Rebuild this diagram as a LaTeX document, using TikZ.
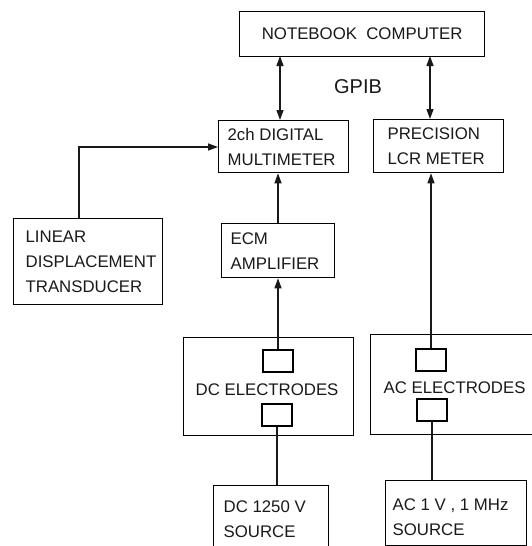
\documentclass[tikz,border=0pt]{standalone}
\usepackage{fontspec}
\setmainfont{Liberation Sans}
\usetikzlibrary{arrows.meta}
\begin{document}
\begin{tikzpicture}[x=1pt,y=-1pt,
  line width=1.3pt,
  tip/.tip={Triangle[length=10pt,width=7pt]},
  blk/.style={draw, anchor=north west, inner sep=0pt},
  lbl/.style={anchor=west, align=left, inner sep=0pt,
    font=\fontsize{16.8}{25}\selectfont, text=black!90},
  elec/.style={draw, minimum width=30pt, minimum height=22pt, inner sep=0pt},
  conn/.style={draw=black!90}]
\useasboundingbox (0,0) rectangle (532,546);
\clip (0,0) rectangle (532,546);
% boxes
\node[blk, minimum width=245pt, minimum height=45pt] (nb) at (239,11) {};
\node[blk, minimum width=130pt, minimum height=52pt] (dmm) at (218,120) {};
\node[blk, minimum width=130pt, minimum height=53pt] (lcr) at (373,119) {};
\node[blk, minimum width=149pt, minimum height=86pt] (ldt) at (13,218) {};
\node[blk, minimum width=113pt, minimum height=54pt] (ecm) at (221,223) {};
\node[blk, minimum width=170pt, minimum height=98pt] (dce) at (183,337) {};
\node[blk, minimum width=170pt, minimum height=100pt] (ace) at (370,334) {};
\node[blk, minimum width=115pt, minimum height=68pt] (dcs) at (213,485) {};
\node[blk, minimum width=141pt, minimum height=65pt] (acs) at (385,480) {};
% labels
\node[lbl, anchor=center] (nbt) at (nb.center) {NOTEBOOK\ \ COMPUTER};
\node[lbl] (dmmt) at ([xshift=9pt]dmm.west) {2ch DIGITAL\\MULTIMETER};
\node[lbl] (lcrt) at ([xshift=14pt]lcr.west) {PRECISION\\LCR METER};
\node[lbl] (ldtt) at ([xshift=12pt]ldt.west) {LINEAR\\DISPLACEMENT\\TRANSDUCER};
\node[lbl] (ecmt) at ([xshift=9pt]ecm.west) {ECM\\AMPLIFIER};
\node[lbl] (dcet) at ([xshift=12pt,yshift=-3pt]dce.west) {DC ELECTRODES};
\node[lbl] (acet) at ([xshift=13pt,yshift=-3pt]ace.west) {AC ELECTRODES};
\node[lbl] (dcst) at ([xshift=10pt]dcs.west) {DC 1250 V\\SOURCE};
\node[lbl] (acst) at ([xshift=7pt,yshift=-4pt]acs.west) {AC 1 V , 1 MHz\\SOURCE};
% electrodes
\node[elec] (dcu) at (278,361) {};
\node[elec] (dcl) at (277,415) {};
\node[elec] (acu) at (431,360) {};
\node[elec] (acl) at (432,410) {};
% label
\node[font=\fontsize{20}{24}\selectfont, text=black!90] (gpib) at (358,87) {GPIB};
% connectors
\coordinate (nbL) at (280,56);
\coordinate (nbR) at (430,56);
\draw[conn, {tip}-{tip}] (nbL) -- (nbL |- dmm.north);
\draw[conn, {tip}-{tip}] (nbR) -- (nbR |- lcr.north);
\coordinate (ldtT) at (79,218);
\draw[conn, -{tip}] (ldtT) |- (dmm.west |- 0,147);
\draw[conn, -{tip}] (dcu.north -| 278,0) -- (ecm.south -| 278,0);
\draw[conn, -{tip}] (ecm.north -| 278,0) -- (dmm.south -| 278,0);
\draw[conn, -{tip}] (acu.north) -- (acu.north |- lcr.south);
\draw[conn] (dcl.south) -- (dcl.south |- dcs.north);
\draw[conn] (acl.south) -- (acl.south |- acs.north);
\end{tikzpicture}
\end{document}
